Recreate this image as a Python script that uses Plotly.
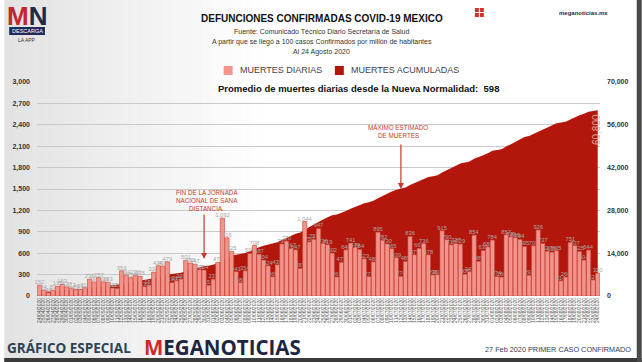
import plotly.graph_objects as go

# ---------------- data ----------------
fechas = [
    "24/04/2020","25/04/2020","26/04/2020","27/04/2020","28/04/2020","29/04/2020","30/04/2020",
    "01/05/2020","02/05/2020","03/05/2020","04/05/2020","05/05/2020","06/05/2020","07/05/2020",
    "08/05/2020","09/05/2020","10/05/2020","11/05/2020","12/05/2020","13/05/2020","14/05/2020",
    "15/05/2020","16/05/2020","17/05/2020","18/05/2020","19/05/2020","20/05/2020","21/05/2020",
    "22/05/2020","23/05/2020","24/05/2020","25/05/2020","26/05/2020","27/05/2020","28/05/2020",
    "29/05/2020","30/05/2020","31/05/2020",
    "01/06/2020","02/06/2020","03/06/2020","04/06/2020","05/06/2020","06/06/2020","07/06/2020",
    "08/06/2020","09/06/2020","10/06/2020","11/06/2020","12/06/2020","13/06/2020","14/06/2020",
    "15/06/2020","16/06/2020","17/06/2020","18/06/2020","19/06/2020","20/06/2020","21/06/2020",
    "22/06/2020","23/06/2020","24/06/2020","25/06/2020","26/06/2020","27/06/2020","28/06/2020",
    "29/06/2020","30/06/2020",
    "01/07/2020","02/07/2020","03/07/2020","04/07/2020","05/07/2020","06/07/2020","07/07/2020",
    "08/07/2020","09/07/2020","10/07/2020","11/07/2020","12/07/2020","13/07/2020","14/07/2020",
    "15/07/2020","16/07/2020","17/07/2020","18/07/2020","19/07/2020","20/07/2020","21/07/2020",
    "22/07/2020","23/07/2020","24/07/2020","25/07/2020","26/07/2020","27/07/2020","28/07/2020",
    "29/07/2020","30/07/2020","31/07/2020",
    "01/08/2020","02/08/2020","03/08/2020","04/08/2020","05/08/2020","06/08/2020","07/08/2020",
    "08/08/2020","09/08/2020","10/08/2020","11/08/2020","12/08/2020","13/08/2020","14/08/2020",
    "15/08/2020","16/08/2020","17/08/2020","18/08/2020","19/08/2020","20/08/2020","21/08/2020",
    "22/08/2020","23/08/2020","24/08/2020",
]

muertes_diarias = [
    152, 84, 46, 83, 135, 163, 127,
    113, 89, 93, 117, 236, 197, 257, 199, 193, 112, 108, 353, 294, 257,
    290, 278, 132, 155, 334, 424, 420, 479, 190, 215, 239, 501, 463, 447,
    371, 364, 151,
    237, 470, 1092, 816, 625, 341, 188, 354, 596, 708, 587, 504, 424, 269,
    439, 730, 770, 667, 647, 387, 1044, 759, 793, 947, 736, 719, 602, 267,
    473, 648,
    741, 679, 654, 523, 273, 480, 895, 782, 730, 665, 539, 276, 485, 836,
    579, 668, 736, 578, 296, 301, 915, 790, 718, 737, 729, 306, 342, 854,
    485, 639, 688,
    784, 274, 266, 857, 829, 819, 794, 695, 292, 705, 926, 737, 627, 615,
    635, 214, 266, 751, 707, 625, 504, 644, 226, 320,
]

muertes_acumuladas = [
    1221, 1305, 1351, 1434, 1569, 1732, 1859,
    1972, 2061, 2154, 2271, 2507, 2704, 2961, 3160, 3353, 3465, 3573, 3926, 4220, 4477,
    4767, 5045, 5177, 5332, 5666, 6090, 6510, 6989, 7179, 7394, 7633, 8134, 8597, 9044,
    9415, 9779, 9930,
    10167, 10637, 11729, 12545, 13170, 13511, 13699, 14053, 14649, 15357, 15944, 16448, 16872, 17141,
    17580, 18310, 19080, 19747, 20394, 20781, 21825, 22584, 23377, 24324, 25060, 25779, 26381, 26648,
    27121, 27769,
    28510, 29189, 29843, 30366, 30639, 31119, 32014, 32796, 33526, 34191, 34730, 35006, 35491, 36327,
    36906, 37574, 38310, 38888, 39184, 39485, 40400, 41190, 41908, 42645, 43374, 43680, 44022, 44876,
    45361, 46000, 46688,
    47472, 47746, 48012, 48869, 49698, 50517, 51311, 52006, 52298, 53003, 53929, 54666, 55293, 55908,
    56543, 56757, 57023, 57774, 58481, 59106, 59610, 60254, 60480, 60800,
]

eje_izq_ticks = [0, 300, 600, 900, 1200, 1500, 1800, 2100, 2400, 2700, 3000]
eje_der_ticks = [0, 14000, 28000, 42000, 56000, 70000]
total_final = "60,800"
promedio = 598
fecha_fin_jornada = "30/05/2020"
fecha_maximo = "12/07/2020"

# ---------------- layout helpers ----------------
W, H = 642, 362
L, R, T, B = 33, 42, 82, 66
PW, PH = W - L - R, H - T - B
def px(x):
    return (x - L) / PW
def py(y):
    return (H - B - y) / PH

FONT = "Liberation Sans"
DARK_RED = "#b3170b"
SALMON = "#f4938a"
ANN_RED = "#c63a2c"

fig = go.Figure()

fig.add_trace(go.Scatter(
    x=fechas, y=muertes_acumuladas, mode="lines", fill="tozeroy",
    line=dict(color=DARK_RED, width=0), fillcolor=DARK_RED,
    yaxis="y", showlegend=False, hoverinfo="skip",
))

fig.add_trace(go.Bar(
    x=fechas, y=muertes_diarias, yaxis="y2",
    marker=dict(color=SALMON, line=dict(color="#c2453a", width=0.6)),
    texttemplate="%{y:,}", textposition="outside", textangle=0,
    constraintext="none", cliponaxis=False,
    textfont=dict(family=FONT, size=5.8, color="#a8a8a8"),
    showlegend=False, hoverinfo="skip",
))

shapes = []
# soft gray gradient on the left
n = 26
for i in range(n):
    a = 0.11 * (1 - i / n)
    shapes.append(dict(type="rect", xref="paper", yref="paper",
                       x0=px(i * 10), x1=px(i * 10 + 10), y0=py(H), y1=py(0),
                       fillcolor=f"rgba(0,0,0,{a:.4f})", line=dict(width=0), layer="below"))
# frame
shapes.append(dict(type="rect", xref="paper", yref="paper", x0=px(0), x1=px(W), y0=py(H), y1=py(358),
                   fillcolor="#3a3a3a", line=dict(width=0), layer="above"))
shapes.append(dict(type="rect", xref="paper", yref="paper", x0=px(637), x1=px(W), y0=py(H), y1=py(0),
                   fillcolor="#4a4a4a", line=dict(width=0), layer="above"))
# legend swatches
shapes.append(dict(type="rect", xref="paper", yref="paper", x0=px(221), x1=px(230), y0=py(75), y1=py(66),
                   fillcolor=SALMON, line=dict(width=0)))
shapes.append(dict(type="rect", xref="paper", yref="paper", x0=px(333), x1=px(342), y0=py(75), y1=py(66),
                   fillcolor=DARK_RED, line=dict(width=0)))
# logo box + small red icon
shapes.append(dict(type="rect", xref="paper", yref="paper", x0=px(5), x1=px(41), y0=py(35), y1=py(27),
                   fillcolor="#1f2b5c", line=dict(width=0)))
for (x0, y0) in [(474, 8), (479, 8), (474, 13), (479, 13)]:
    shapes.append(dict(type="rect", xref="paper", yref="paper", x0=px(x0), x1=px(x0 + 4),
                       y0=py(y0 + 4), y1=py(y0), fillcolor="#d3312b", line=dict(width=0)))

def txt(x, y, text, size, color="#222", xanchor="center", bold=False, angle=0, family=FONT):
    return dict(xref="paper", yref="paper", x=px(x), y=py(y), text=text, showarrow=False,
                xanchor=xanchor, yanchor="middle", textangle=angle,
                font=dict(family=family, size=size, color=color, weight="bold" if bold else "normal"))

ann = [
    txt(320, 18, "DEFUNCIONES CONFIRMADAS COVID-19 MEXICO", 10, "#111", bold=True),
    txt(320, 31, "Fuente: Comunicado Técnico Diario Secretaría de Salud", 7, "#333"),
    txt(320, 42, "A partir que se llegó a 100 casos Confirmados por millón de habitantes", 7, "#333"),
    txt(320, 52, "Al 24 Agosto 2020", 7, "#333"),
    txt(235, 70.5, "MUERTES DIARIAS", 9, "#444", xanchor="left"),
    txt(347, 70.5, "MUERTES ACUMULADAS", 9, "#444", xanchor="left"),
    txt(357, 89, f"Promedio de muertes diarias desde la Nueva Normalidad:  {promedio}", 9.5, "#111", bold=True),
    txt(596, 130, total_final, 10, "#e8a39b", angle=-90),
    txt(397, 127, "MÁXIMO ESTIMADO", 6.3, ANN_RED),
    txt(397, 135, "DE MUERTES", 6.3, ANN_RED),
    txt(204, 192, "FIN DE LA JORNADA", 6.3, ANN_RED),
    txt(204, 200, "NACIONAL DE SANA", 6.3, ANN_RED),
    txt(204, 208, "DISTANCIA.", 6.3, ANN_RED),
    # logo
    txt(23, 16, "<span style='color:#c0282d'>M</span><span style='color:#1f2a44'>N</span>", 26, bold=True),
    txt(23, 31, "DESCARGA", 5.5, "#ffffff"),
    txt(23, 40, "LA APP", 5, "#333"),
    txt(583, 13, "meganoticias.mx", 6, "#1f2a44", bold=True),
    # footer
    txt(1, 348, "GRÁFICO ESPECIAL", 13.5, "#2b4257", xanchor="left", bold=True, family="Open Sans"),
    txt(139, 346.5, "<span style='color:#d0282e'>M</span>EGANOTICIAS", 20.5, "#1c2541", xanchor="left",
        bold=True, family="Open Sans"),
    txt(633, 349, "27 Feb 2020 PRIMER CASO CONFIRMADO", 7.3, "#2c3e66", xanchor="right"),
]
# arrows
ann.append(dict(xref="x", yref="y", x=fecha_maximo, y=muertes_acumuladas[fechas.index(fecha_maximo)],
                ax=0, ay=-46, text="", showarrow=True, arrowhead=2, arrowsize=1, arrowwidth=1.2,
                arrowcolor=ANN_RED, standoff=0))
ann.append(dict(xref="x", yref="y2", x=fecha_fin_jornada, y=520,
                ax=0, ay=-46, text="", showarrow=True, arrowhead=2, arrowsize=1, arrowwidth=1.2,
                arrowcolor=ANN_RED, standoff=0))

fig.update_layout(
    width=W, height=H,
    margin=dict(l=L, r=R, t=T, b=B, pad=0),
    paper_bgcolor="white", plot_bgcolor="rgba(0,0,0,0)",
    bargap=0.06,
    font=dict(family=FONT),
    shapes=shapes, annotations=ann,
    xaxis=dict(type="category", tickmode="array", tickvals=fechas, ticktext=fechas,
               tickangle=-90, tickfont=dict(family=FONT, size=5, color="#555"),
               showgrid=False, showline=False, ticks="", zeroline=False,
               range=[-0.5, len(fechas) - 0.5]),
    yaxis=dict(side="right", range=[0, 70000], tickmode="array", tickvals=eje_der_ticks,
               ticktext=[f"{v:,}" for v in eje_der_ticks], showgrid=False, zeroline=False,
               tickfont=dict(family=FONT, size=7, color="#333", weight="bold"), ticklabelstandoff=6),
    yaxis2=dict(side="left", overlaying="y", range=[0, 3000], tickmode="array", tickvals=eje_izq_ticks,
                ticktext=[f"{v:,}" for v in eje_izq_ticks], showgrid=True, gridcolor="#c9c9c9",
                gridwidth=1, zeroline=False,
                tickfont=dict(family=FONT, size=7, color="#333", weight="bold"), ticklabelstandoff=6),
)

fig.write_html("out.html", config={"displayModeBar": False},
               post_script="document.body.style.margin='0';document.body.style.overflow='hidden';")
